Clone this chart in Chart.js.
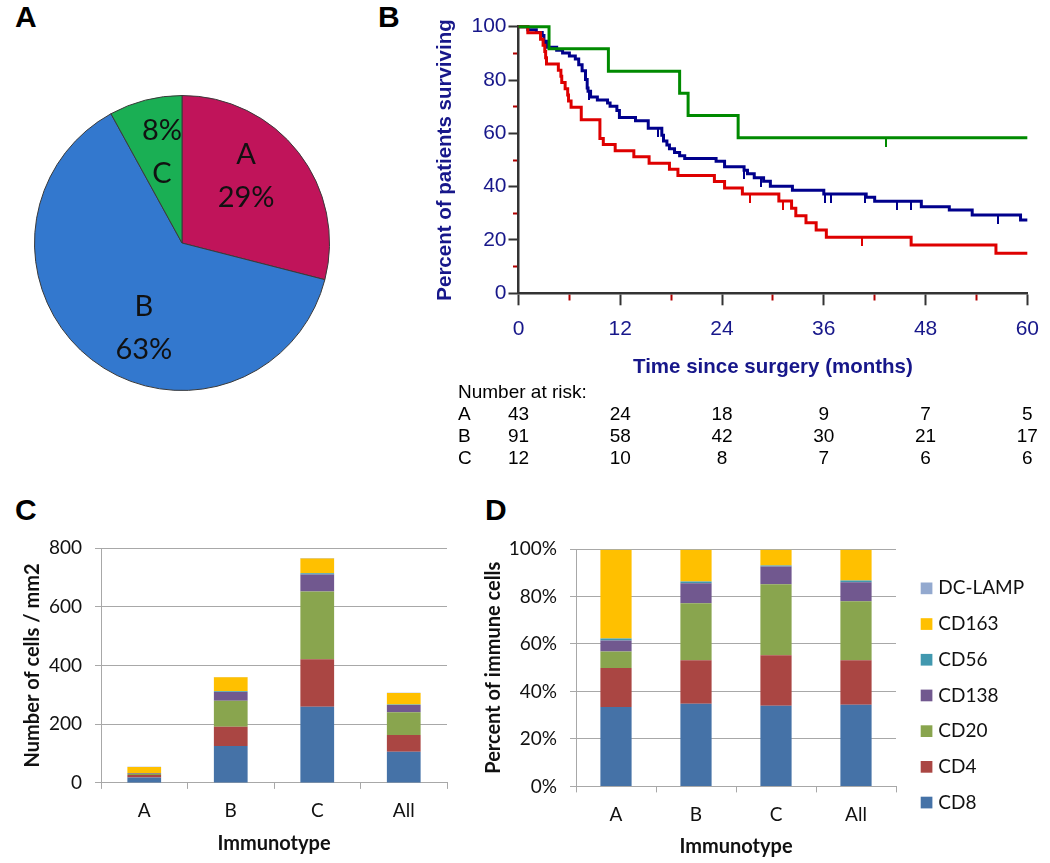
<!DOCTYPE html>
<html>
<head>
<meta charset="utf-8">
<script src="https://cdn.jsdelivr.net/npm/chart.js@4.4.0/dist/chart.umd.min.js"></script>
<style>
  body { margin: 0; background: #fff; }
  #wrap { position: relative; width: 1050px; height: 863px; background: #fff; overflow: hidden; }
  canvas { position: absolute; }
  .tag { position: absolute; font: bold 30px "Liberation Sans", Arial, sans-serif; line-height: 1; color: #000; }
</style>
</head>
<body>
<div id="wrap">
  <div class="tag" style="left:15px;top:2px">A</div>
  <div class="tag" style="left:378px;top:2px">B</div>
  <div class="tag" style="left:15px;top:495px">C</div>
  <div class="tag" style="left:485px;top:495px">D</div>
  <canvas id="pie" width="296" height="296" style="left:34px;top:95px"></canvas>
  <canvas id="km" width="650" height="480" style="left:400px;top:0"></canvas>
  <canvas id="cells" width="520" height="343" style="left:0;top:520px"></canvas>
  <canvas id="pct" width="580" height="343" style="left:470px;top:520px"></canvas>
</div>
<script>
// panel A
const pieLabels = ['A', 'B', 'C'];
const pieShares = [29, 63, 8];

// panel B - Kaplan-Meier steps (months, % surviving)
const kmTimeA = [0, 1.1, 2.6, 2.9, 3.1, 3.2, 3.3, 4.7, 5.0, 5.1, 5.5, 5.8, 5.9, 6.2, 7.4, 9.6, 10.0, 11.4, 13.6, 15.4, 17.8, 18.8, 23.1, 24.3, 26.4, 30.7, 32.2, 32.7, 33.9, 35.1, 36.3, 46.3, 56.3, 60];
const kmSurvA = [100, 97.7, 95.3, 93.0, 90.7, 88.4, 86.0, 83.7, 81.4, 79.1, 76.7, 74.4, 72.1, 69.8, 65.1, 58.1, 55.8, 53.5, 51.2, 48.8, 46.5, 44.2, 41.9, 39.5, 37.2, 34.6, 31.9, 29.1, 26.5, 23.7, 21.0, 18.1, 15.0, 15.0];
const kmTimeB = [0, 1.1, 2.1, 2.8, 3.0, 3.3, 4.5, 5.2, 6.0, 6.7, 7.1, 7.5, 7.9, 8.1, 8.2, 8.5, 9.3, 10.5, 10.8, 11.6, 11.9, 13.8, 15.3, 16.9, 17.1, 17.5, 17.8, 18.4, 19.0, 19.6, 23.3, 24.3, 26.6, 27.0, 27.8, 28.9, 29.7, 32.3, 36.0, 41.0, 42.0, 47.5, 50.8, 53.5, 59.2, 60];
const kmSurvB = [100, 98.9, 97.8, 96.7, 94.5, 92.3, 91.2, 90.1, 89.0, 87.9, 85.7, 83.5, 80.2, 77.0, 75.8, 73.6, 72.5, 71.4, 70.2, 68.6, 65.9, 64.7, 61.9, 59.3, 57.1, 55.6, 54.2, 52.8, 51.6, 50.6, 49.5, 47.5, 46.2, 44.8, 43.3, 42.0, 40.2, 38.7, 37.2, 36.0, 34.5, 32.5, 31.2, 29.4, 27.5, 27.5];
const kmTimeC = [0, 3.6, 10.6, 19.0, 20.0, 25.9, 60];
const kmSurvC = [100, 91.7, 83.3, 75.0, 66.7, 58.3, 58.3];

const censorTimeA = [27.3, 31.2, 40.5];
const censorSurvA = [37.2, 34.6, 21.0];
const censorTimeB = [3.1, 8.3, 16.4, 26.6, 28.6, 36.1, 36.8, 40.9, 44.6, 46.3, 56.5];
const censorSurvB = [94.5, 75.8, 61.9, 46.2, 43.3, 37.2, 37.2, 37.2, 34.5, 34.5, 29.4];
const censorTimeC = [43.3];
const censorSurvC = [58.3];

const riskTimes = [0, 12, 24, 36, 48, 60];
const riskA = [43, 24, 18, 9, 7, 5];
const riskB = [91, 58, 42, 30, 21, 17];
const riskC = [12, 10, 8, 7, 6, 6];

// panels C and D
const immunotypes = ['A', 'B', 'C', 'All'];
const markers = ['CD8', 'CD4', 'CD20', 'CD138', 'CD56', 'CD163', 'DC-LAMP'];
const cellsCD8 = [18.2, 126, 259, 106];
const cellsCD4 = [9.0, 65, 162, 57];
const cellsCD20 = [3.8, 89, 231, 78];
const cellsCD138 = [2.6, 30, 58, 24];
const cellsCD56 = [0.4, 2.5, 4, 2];
const cellsCD163 = [20.4, 47.5, 50, 39];
const cellsDCLAMP = [0.2, 1, 2, 1];

const pctCD8 = [33.4, 34.8, 34.0, 34.4];
const pctCD4 = [16.5, 18.3, 21.2, 18.7];
const pctCD20 = [6.9, 24.1, 30.0, 24.9];
const pctCD138 = [4.7, 8.4, 7.4, 8.0];
const pctCD56 = [0.8, 0.7, 0.5, 0.7];
const pctCD163 = [37.4, 13.4, 6.6, 13.0];
const pctDCLAMP = [0.3, 0.3, 0.3, 0.3];

const cellSeries = [cellsCD8, cellsCD4, cellsCD20, cellsCD138, cellsCD56, cellsCD163, cellsDCLAMP];
const pctSeries = [pctCD8, pctCD4, pctCD20, pctCD138, pctCD56, pctCD163, pctDCLAMP];
const markerColors = ['#4572A7', '#AA4643', '#89A54E', '#71588F', '#4198AF', '#FFC000', '#93A9CF'];

const ARIAL = '"Liberation Sans", Arial, sans-serif';
const CALI = 'Lato, "Open Sans", sans-serif';
const NAVY = '#17178a';

Chart.defaults.animation = false;
Chart.defaults.responsive = false;
Chart.defaults.plugins.legend.display = false;
Chart.defaults.plugins.tooltip.enabled = false;

// ---------- A: pie ----------
const pieLabelPlugin = {
  id: 'pieLabelPlugin',
  afterDatasetsDraw(chart) {
    const ctx = chart.ctx;
    const shift = [-8.6, -13.6, 2];
    ctx.save();
    ctx.font = '29px ' + CALI;
    ctx.fillStyle = '#111';
    ctx.textAlign = 'center';
    ctx.textBaseline = 'middle';
    chart.getDatasetMeta(0).data.forEach((arc, i) => {
      const p = arc.getProps(['x', 'y', 'startAngle', 'endAngle', 'outerRadius'], true);
      const a = (p.startAngle + p.endAngle) / 2 + shift[i] * Math.PI / 180;
      const cx = p.x + Math.cos(a) * p.outerRadius * 0.63;
      const cy = p.y + Math.sin(a) * p.outerRadius * 0.63;
      const pct = pieShares[i] + '%';
      const lines = i === 2 ? [pct, pieLabels[i]] : [pieLabels[i], pct];
      ctx.fillText(lines[0], cx, cy - 21.5);
      ctx.fillText(lines[1], cx, cy + 21.5);
    });
    ctx.restore();
  }
};

new Chart(document.getElementById('pie'), {
  type: 'pie',
  data: {
    labels: pieLabels,
    datasets: [{
      data: pieShares,
      backgroundColor: ['#C0145A', '#3378CE', '#1AAF54'],
      borderColor: '#3a3a3a',
      borderWidth: 1
    }]
  },
  options: { layout: { padding: 0 } },
  plugins: [pieLabelPlugin]
});

// ---------- B: survival ----------
function toPoints(ts, ss) {
  return ts.map((t, i) => ({ x: t, y: ss[i] }));
}

function censorMark(color) {
  const c = document.createElement('canvas');
  c.width = 2;
  c.height = 18;
  const g = c.getContext('2d');
  g.fillStyle = color;
  g.fillRect(0, 9, 2, 9);
  return c;
}

const RED = '#de0000', BLUE = '#00008c', GREEN = '#008a00';

function stepLine(ts, ss, color) {
  return {
    data: toPoints(ts, ss),
    borderColor: color,
    borderWidth: 3,
    stepped: true,
    pointRadius: 0,
    fill: false,
    clip: 6
  };
}

function censorSet(ts, ss, color) {
  return {
    type: 'scatter',
    data: toPoints(ts, ss),
    pointStyle: censorMark(color),
    pointRadius: 3,
    clip: 10
  };
}

const riskTablePlugin = {
  id: 'riskTablePlugin',
  afterDraw(chart) {
    const ctx = chart.ctx;
    const xs = chart.scales.x;
    ctx.save();
    ctx.font = '19px ' + ARIAL;
    ctx.fillStyle = '#000';
    ctx.textBaseline = 'middle';
    ctx.textAlign = 'left';
    ctx.fillText('Number at risk:', 58, 393);
    const rows = [['A', riskA], ['B', riskB], ['C', riskC]];
    const rowY = [415, 437, 459];
    rows.forEach((r, k) => {
      ctx.textAlign = 'left';
      ctx.fillText(r[0], 58, rowY[k]);
      ctx.textAlign = 'center';
      r[1].forEach((n, j) => ctx.fillText(String(n), xs.getPixelForValue(riskTimes[j]), rowY[k]));
    });
    ctx.restore();
  }
};

const isMajorX = c => c.tick && c.tick.value % 12 === 0;
const isMajorY = c => c.tick && c.tick.value % 20 === 0;

new Chart(document.getElementById('km'), {
  type: 'line',
  data: {
    datasets: [
      stepLine(kmTimeC, kmSurvC, GREEN),
      stepLine(kmTimeA, kmSurvA, RED),
      stepLine(kmTimeB, kmSurvB, BLUE),
      censorSet(censorTimeC, censorSurvC, GREEN),
      censorSet(censorTimeA, censorSurvA, RED),
      censorSet(censorTimeB, censorSurvB, BLUE)
    ]
  },
  options: {
    layout: { padding: { left: 0, top: 26.7, right: 17.7, bottom: 100.7 } },
    scales: {
      x: {
        type: 'linear',
        min: 0,
        max: 60,
        afterFit: s => { s.height = 86; },
        border: { color: '#333', width: 2.5 },
        grid: {
          drawOnChartArea: false,
          tickLength: 12,
          tickWidth: 2,
          tickColor: c => isMajorX(c) ? '#333' : '#b00000',
          tickBorderDash: c => isMajorX(c) ? [] : [6, 40]
        },
        ticks: {
          stepSize: 6,
          autoSkip: false,
          maxRotation: 0,
          padding: 11,
          color: NAVY,
          font: { family: ARIAL, size: 21 },
          callback: v => (v % 12 === 0 ? String(v) : '')
        },
        title: {
          display: true,
          text: 'Time since surgery (months)',
          color: NAVY,
          font: { family: ARIAL, size: 20.5, weight: 'bold' },
          padding: { top: 0, bottom: 0 }
        }
      },
      y: {
        min: 0,
        max: 100,
        afterFit: s => { s.width = 118.5; },
        border: { color: '#333', width: 2.5 },
        grid: {
          drawOnChartArea: false,
          tickLength: 10,
          tickWidth: 2,
          tickColor: c => isMajorY(c) ? '#333' : '#b00000',
          tickBorderDash: c => isMajorY(c) ? [] : [0, 4.5, 4.5, 40]
        },
        ticks: {
          stepSize: 10,
          autoSkip: false,
          padding: 2,
          color: NAVY,
          font: { family: ARIAL, size: 21 },
          callback: v => (v % 20 === 0 ? String(v) : '')
        },
        title: {
          display: true,
          text: 'Percent of patients surviving',
          color: NAVY,
          font: { family: ARIAL, size: 20.5, weight: 'bold' },
          padding: { top: 32.7, bottom: 0 }
        }
      }
    }
  },
  plugins: [riskTablePlugin]
});

// ---------- C and D: stacked bars ----------
const GRID = '#a8a8a8';

function barSets(series) {
  return markers.map((m, i) => ({
    label: m,
    data: series[i],
    backgroundColor: markerColors[i],
    borderWidth: 0,
    categoryPercentage: 1,
    barPercentage: 0.39
  }));
}

function barScales(o) {
  return {
    x: {
      stacked: true,
      afterFit: s => { s.height = o.xHeight; },
      border: { color: GRID },
      grid: { offset: true, drawOnChartArea: false, tickLength: 6, color: GRID },
      ticks: { padding: 11, color: '#111', font: { family: CALI, size: 19 } },
      title: {
        display: true,
        text: 'Immunotype',
        color: '#111',
        font: { family: CALI, size: 20, weight: 'bold' },
        padding: { top: 0, bottom: 0 }
      }
    },
    y: {
      stacked: true,
      min: 0,
      max: o.max,
      afterFit: s => { s.width = o.yWidth; },
      border: { color: GRID },
      grid: { color: GRID, tickLength: 6 },
      ticks: { stepSize: o.step, padding: 13, color: '#111', font: { family: CALI, size: 19 }, callback: o.fmt },
      title: {
        display: true,
        text: o.yTitle,
        color: '#111',
        font: { family: CALI, size: 20, weight: 'bold' },
        padding: { top: o.yTitlePad, bottom: 0 }
      }
    }
  };
}

new Chart(document.getElementById('cells'), {
  type: 'bar',
  data: { labels: immunotypes, datasets: barSets(cellSeries) },
  options: {
    layout: { padding: { left: 0, top: 28, right: 73, bottom: 7.6 } },
    scales: barScales({ xHeight: 72.5, yWidth: 101, max: 800, step: 200, fmt: v => String(v), yTitle: 'Number of cells / mm2', yTitlePad: 21 })
  }
});

const markerLegend = {
  id: 'markerLegend',
  afterDraw(chart) {
    const ctx = chart.ctx;
    const ds = chart.data.datasets;
    ctx.save();
    ctx.font = '19px ' + CALI;
    ctx.textBaseline = 'middle';
    ctx.textAlign = 'left';
    for (let k = 0; k < ds.length; k++) {
      const d = ds[ds.length - 1 - k];
      const yc = 68.3 + 35.7 * k;
      ctx.fillStyle = d.backgroundColor;
      ctx.fillRect(450.7, yc - 5.8, 11.7, 11.7);
      ctx.fillStyle = '#111';
      ctx.fillText(d.label, 468.3, yc);
    }
    ctx.restore();
  }
};

new Chart(document.getElementById('pct'), {
  type: 'bar',
  data: { labels: immunotypes, datasets: barSets(pctSeries) },
  options: {
    layout: { padding: { left: 0, top: 29, right: 154, bottom: 4.9 } },
    scales: barScales({ xHeight: 71.7, yWidth: 106, max: 100, step: 20, fmt: v => v + '%', yTitle: 'Percent of immune cells', yTitlePad: 11.4 })
  },
  plugins: [markerLegend]
});
</script>
</body>
</html>
